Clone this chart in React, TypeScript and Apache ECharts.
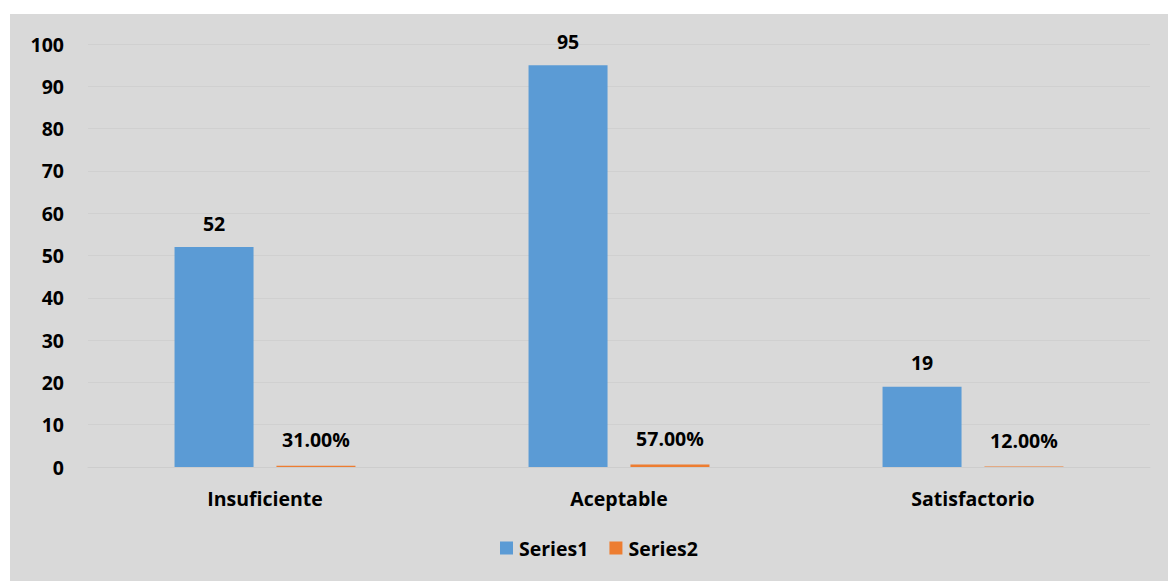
import React, { useEffect, useRef } from "react";
import * as echarts from "echarts";

const categories = ["Insuficiente", "Aceptable", "Satisfactorio"];
const series1 = [52, 95, 19];
const series2 = [0.31, 0.57, 0.12];
const yTicks = { min: 0, max: 100, interval: 10 };

const FONT = "'Open Sans', Lato, sans-serif";
const FS = 19.5;

export default function App() {
  const ref = useRef<HTMLDivElement>(null);
  useEffect(() => {
    if (!ref.current) return;
    const chart = echarts.init(ref.current, undefined, { renderer: "svg" });
    chart.setOption({
      animation: false,
      backgroundColor: "#d9d9d9",
      textStyle: { fontFamily: FONT },
      grid: { left: 78, right: 18, top: 30, bottom: 114, containLabel: false },
      legend: {
        data: ["Series1", "Series2"],
        bottom: 18,
        left: 485,
        itemWidth: 13,
        itemHeight: 13,
        itemGap: 21,
        icon: "rect",
        textStyle: { fontFamily: FONT, fontSize: FS, fontWeight: "bold", color: "#000", padding: [0, 0, 0, 1] },
      },
      xAxis: {
        type: "category",
        data: categories,
        axisLine: { lineStyle: { color: "#cdcdcd" } },
        axisTick: { show: false },
        axisLabel: { fontSize: FS, fontWeight: "bold", color: "#000", margin: 21, fontFamily: FONT },
      },
      yAxis: {
        type: "value",
        min: yTicks.min,
        max: yTicks.max,
        interval: yTicks.interval,
        axisLine: { show: false },
        axisTick: { show: false },
        splitLine: { lineStyle: { color: "#d0d0d0" } },
        axisLabel: { fontSize: FS, fontWeight: "bold", color: "#000", margin: 24, fontFamily: FONT },
      },
      series: [
        {
          name: "Series1",
          type: "bar",
          data: series1,
          barWidth: 79,
          barGap: "29%",
          itemStyle: { color: "#5b9bd5" },
          label: {
            show: true,
            position: "top",
            distance: 14,
            fontSize: FS,
            fontWeight: "bold",
            color: "#000",
            fontFamily: FONT,
          },
        },
        {
          name: "Series2",
          type: "bar",
          data: series2,
          barWidth: 79,
          itemStyle: { color: "#ed7d31" },
          label: {
            show: true,
            position: "top",
            distance: 16,
            fontSize: FS,
            fontWeight: "bold",
            color: "#000",
            fontFamily: FONT,
            formatter: (p: any) => (p.value * 100).toFixed(2) + "%",
          },
        },
      ],
    });
    return () => chart.dispose();
  }, []);
  return (
    <div style={{ position: "absolute", left: 0, top: 0, width: 1168, height: 581, background: "#fff" }}>
      <div
        ref={ref}
        style={{ position: "absolute", left: 10, top: 14, width: 1158, height: 567 }}
      />
    </div>
  );
}
